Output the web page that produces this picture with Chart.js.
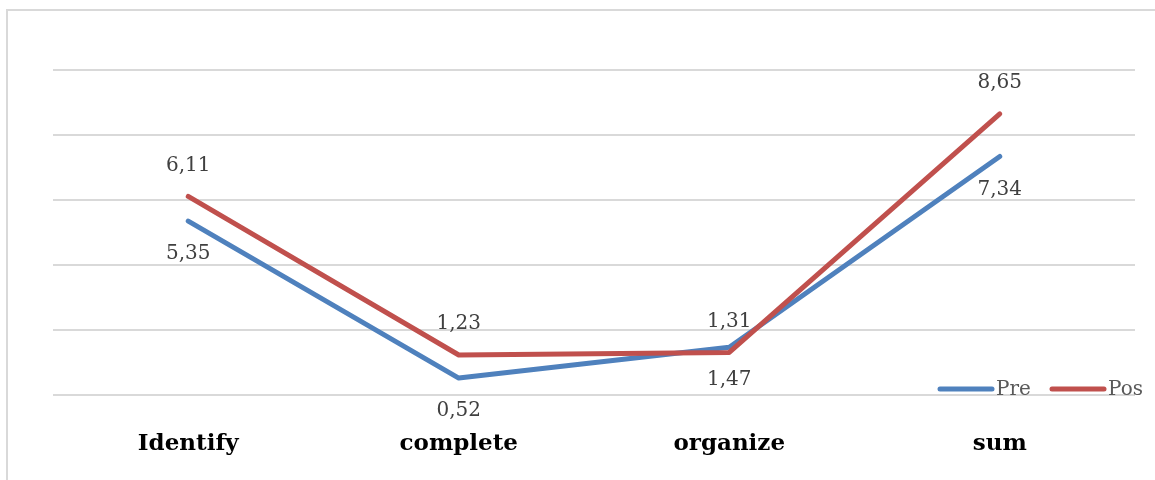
<!DOCTYPE html>
<html>
<head>
<meta charset="utf-8">
<script src="https://cdn.jsdelivr.net/npm/chart.js@4/dist/chart.umd.min.js"></script>
<style>
  html, body { margin: 0; padding: 0; background: #fff; overflow: hidden; }
  #wrap { position: relative; width: 1155px; height: 480px; overflow: hidden; }
  #frame { position: absolute; left: 6px; top: 9px; width: 1149px; height: 471px;
           border-left: 2px solid #d9d9d9; border-top: 2px solid #d9d9d9; box-sizing: border-box; }
  canvas { position: absolute; left: 0; top: 0; }
</style>
</head>
<body>
<div id="wrap">
  <div id="frame"></div>
  <canvas id="c" width="1155" height="480"></canvas>
</div>
<script>
const categories = ['Identify', 'complete', 'organize', 'sum'];
const preValues = [5.35, 0.52, 1.47, 7.34];
const posValues = [6.11, 1.23, 1.31, 8.65];
const seriesNames = ['Pre', 'Pos'];
const seriesColors = ['#4f81bd', '#c0504d'];

const fmt = v => v.toFixed(2).replace('.', ',');

// Value labels: Pre below its points, Pos above
const valueLabels = {
  id: 'valueLabels',
  afterDatasetsDraw(chart) {
    const ctx = chart.ctx;
    ctx.save();
    ctx.font = '20px "DejaVu Serif"';
    ctx.fillStyle = '#404040';
    ctx.textAlign = 'center';
    ctx.textBaseline = 'middle';
    chart.data.datasets.forEach((ds, i) => {
      const meta = chart.getDatasetMeta(i);
      const below = ds.label === 'Pre';
      meta.data.forEach((pt, j) => {
        ctx.fillText(fmt(ds.data[j]), pt.x, below ? pt.y + 33 : pt.y - 31);
      });
    });
    ctx.restore();
  }
};

// Legend drawn inside the plot area, bottom right
const lineLegend = {
  id: 'lineLegend',
  afterDraw(chart) {
    const ctx = chart.ctx;
    const area = chart.chartArea;
    ctx.save();
    ctx.font = '20px "DejaVu Serif"';
    ctx.textBaseline = 'middle';
    ctx.lineCap = 'round';
    ctx.lineWidth = 5;
    const y = area.bottom - 6;
    let x = 940;
    seriesNames.forEach(name => {
      const ds = chart.data.datasets.find(d => d.label === name);
      ctx.strokeStyle = ds.borderColor;
      ctx.beginPath();
      ctx.moveTo(x, y);
      ctx.lineTo(x + 52, y);
      ctx.stroke();
      ctx.fillStyle = '#595959';
      ctx.textAlign = 'left';
      ctx.fillText(ds.label, x + 56, y + 1);
      x += 112;
    });
    ctx.restore();
  }
};

new Chart(document.getElementById('c'), {
  type: 'line',
  data: {
    labels: categories,
    datasets: [
      { label: seriesNames[0], data: preValues, borderColor: seriesColors[0], order: 1 },
      { label: seriesNames[1], data: posValues, borderColor: seriesColors[1], order: 0 }
    ].map(d => Object.assign(d, {
      borderWidth: 5, pointRadius: 0, tension: 0, fill: false,
      borderJoinStyle: 'round', borderCapStyle: 'round', backgroundColor: d.borderColor
    }))
  },
  options: {
    responsive: false,
    animation: false,
    devicePixelRatio: 1,
    layout: { padding: { left: 53, right: 20, top: 70, bottom: 0 } },
    plugins: { legend: { display: false }, tooltip: { enabled: false } },
    scales: {
      x: {
        offset: true,
        grid: { display: false },
        border: { display: false },
        ticks: { color: '#000', font: { family: 'DejaVu Serif', size: 23, weight: 'bold' }, padding: 27 },
        afterFit(s) { s.height = 85; }
      },
      y: {
        min: 0, max: 10,
        ticks: { display: false, stepSize: 2 },
        grid: { color: '#d9d9d9', lineWidth: 2, drawTicks: false },
        border: { display: false },
        afterFit(s) { s.width = 0; }
      }
    }
  },
  plugins: [valueLabels, lineLegend]
});
</script>
</body>
</html>
